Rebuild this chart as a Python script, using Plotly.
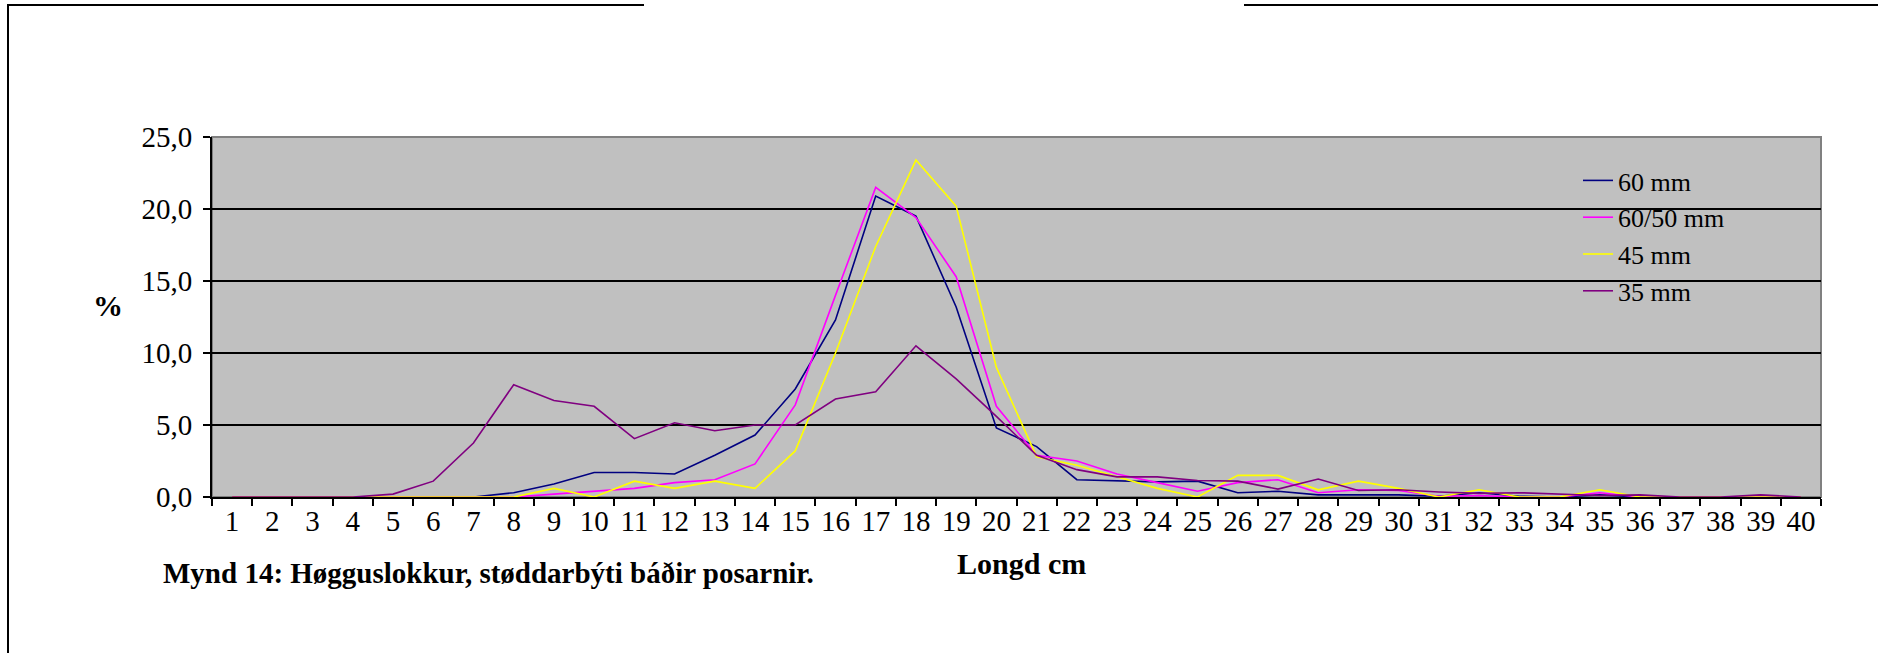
import plotly.graph_objects as go

# ---------------- data ----------------
categories = [str(i) for i in range(1, 41)]

mm60 = [0, 0, 0, 0, 0, 0, 0, 0.3, 0.9, 1.7,
        1.7, 1.6, 2.9, 4.3, 7.5, 12.3, 20.9, 19.5, 13.2, 4.8,
        3.5, 1.2, 1.1, 1.05, 1.1, 0.3, 0.4, 0.15, 0.15, 0.15,
        0.05, 0.3, 0.05, 0, 0.15, 0, 0, 0, 0, 0]

mm60_50 = [0, 0, 0, 0, 0, 0, 0, 0, 0.2, 0.4,
           0.6, 1.0, 1.2, 2.3, 6.4, 14.0, 21.5, 19.4, 15.3, 6.3,
           2.9, 2.5, 1.6, 1.0, 0.4, 1.0, 1.2, 0.3, 0.5, 0.45,
           0.05, 0.1, 0, 0, 0.3, 0, 0, 0, 0, 0]

mm45 = [0, 0, 0, 0, 0, 0, 0, 0, 0.6, 0,
        1.1, 0.6, 1.1, 0.6, 3.2, 10.0, 17.4, 23.4, 20.2, 9.0,
        2.8, 2.2, 1.4, 0.6, 0, 1.5, 1.5, 0.5, 1.1, 0.6,
        0, 0.5, 0, 0, 0.5, 0, 0, 0, 0.05, 0]

mm35 = [0, 0, 0, 0, 0.2, 1.1, 3.75, 7.8, 6.7, 6.3,
        4.05, 5.15, 4.6, 5.0, 5.0, 6.8, 7.3, 10.5, 8.2, 5.6,
        2.9, 1.9, 1.4, 1.4, 1.15, 1.1, 0.55, 1.25, 0.45, 0.5,
        0.35, 0.25, 0.3, 0.2, 0.1, 0.15, 0, 0, 0.15, 0]

series_names = ["60 mm", "60/50 mm", "45 mm", "35 mm"]
series_values = [mm60, mm60_50, mm45, mm35]
series_colors = ["#000080", "#FF00FF", "#FFFF00", "#800080"]

y_ticks = [0, 5, 10, 15, 20, 25]

# ---------------- layout geometry (pixels) ----------------
W, H = 1878, 653
L, R, T, B = 212, 1821, 137, 497
pw, ph = R - L, B - T


def px(xp):
    return (xp - L) / pw


def py(yp):
    return (B - yp) / ph


FONT = "Liberation Serif"

fig = go.Figure()
for name, vals, col in zip(series_names, series_values, series_colors):
    fig.add_trace(go.Scatter(
        x=categories, y=vals, name=name, mode="lines",
        line=dict(color=col, width=1.6),
    ))

fig.update_layout(
    width=W, height=H,
    margin=dict(l=L, r=W - R, t=T, b=H - B, pad=0),
    paper_bgcolor="white",
    plot_bgcolor="#C0C0C0",
    separators=", ",
    font=dict(family=FONT, size=29, color="black"),
    showlegend=True,
    legend=dict(
        x=px(1578), y=py(157), xanchor="left", yanchor="top",
        bgcolor="rgba(0,0,0,0)", borderwidth=0,
        font=dict(family=FONT, size=26, color="black"),
        tracegroupgap=0, itemclick=False,
    ),
    xaxis=dict(
        type="category", categoryorder="array", categoryarray=categories,
        range=[-0.5, 39.5],
        showgrid=False, zeroline=False,
        showline=True, linecolor="black", linewidth=2,
        ticks="outside", ticklen=7, tickwidth=2, tickcolor="black",
        tickson="boundaries",
        ticklabelstandoff=-3,
        tickfont=dict(family=FONT, size=29, color="black"),
        tickangle=0,
    ),
    yaxis=dict(
        range=[0, 25], tickvals=y_ticks, tickformat=".1f",
        showgrid=True, gridcolor="black", gridwidth=1.6,
        zeroline=False,
        showline=True, linecolor="black", linewidth=2,
        ticks="outside", ticklen=7, tickwidth=2, tickcolor="black",
        ticklabelstandoff=5,
        tickfont=dict(family=FONT, size=29, color="black"),
    ),
    shapes=[
        # plot area gray border (top/right)
        dict(type="rect", xref="paper", yref="paper", x0=0, x1=1, y0=0, y1=1,
             line=dict(color="#808080", width=2), layer="below"),
        # outer frame
        dict(type="line", xref="paper", yref="paper",
             x0=px(7), x1=px(644), y0=py(5), y1=py(5),
             line=dict(color="black", width=2)),
        dict(type="line", xref="paper", yref="paper",
             x0=px(1244), x1=px(1880), y0=py(5), y1=py(5),
             line=dict(color="black", width=2)),
        dict(type="line", xref="paper", yref="paper",
             x0=px(8), x1=px(8), y0=py(4), y1=py(660),
             line=dict(color="black", width=2)),
    ],
    annotations=[
        dict(text="<b>%</b>", xref="paper", yref="paper",
             x=px(108), y=py(305), xanchor="center", yanchor="middle",
             showarrow=False, font=dict(family=FONT, size=30, color="black")),
        dict(text="<b>Longd cm</b>", xref="paper", yref="paper",
             x=px(1021), y=py(563), xanchor="center", yanchor="middle",
             showarrow=False, font=dict(family=FONT, size=30, color="black")),
        dict(text="<b>Mynd 14: Høgguslokkur, støddarbýti báðir posarnir.</b>",
             xref="paper", yref="paper",
             x=px(161), y=py(573), xanchor="left", yanchor="middle",
             showarrow=False, font=dict(family=FONT, size=29, color="black")),
    ],
)

fig.write_html("out.html", config={"displayModeBar": False},
               post_script="document.body.style.margin='0';")
